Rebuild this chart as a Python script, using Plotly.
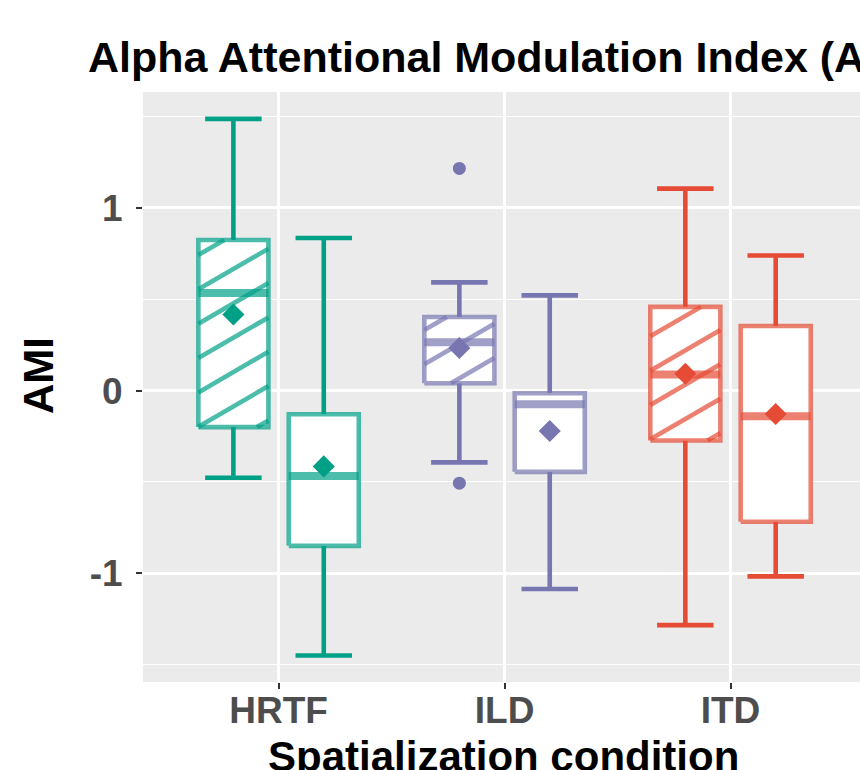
import plotly.graph_objects as go

# ---- data -------------------------------------------------------------
categories = ["HRTF", "ILD", "ITD"]
group_colors = ["#00A087", "#7876B1", "#E64B35"]

# hatched boxes (left box of each pair)
hatched_lower = [-0.477, -0.393, -1.284]
hatched_q1 = [-0.200, 0.040, -0.273]
hatched_median = [0.534, 0.265, 0.088]
hatched_q3 = [0.824, 0.403, 0.458]
hatched_upper = [1.487, 0.592, 1.105]
hatched_mean = [0.416, 0.233, 0.092]
hatched_outliers = [[], [1.216, -0.507], []]

# plain boxes (right box of each pair)
plain_lower = [-1.450, -1.086, -1.017]
plain_q1 = [-0.850, -0.445, -0.718]
plain_median = [-0.468, -0.075, -0.141]
plain_q3 = [-0.130, -0.015, 0.353]
plain_upper = [0.835, 0.521, 0.739]
plain_mean = [-0.415, -0.221, -0.128]
plain_outliers = [[], [], []]

y_tick_values = [-1, 0, 1]
y_tick_labels = ["-1", "0", "1"]
y_minor_values = [-1.5, -0.5, 0.5, 1.5]

# ---- styling ----------------------------------------------------------
FONT = "Liberation Sans, Arial, Helvetica, sans-serif"
DODGE = 0.2          # horizontal shift of each box from its category
BOX_HALF = 0.155     # half box width (x units)
CAP_HALF = 0.125     # half whisker-cap width (x units)
EDGE_ALPHA = 0.7
LINE_W = 4.6
MEDIAN_W = 8

# stripe family for the hatched boxes: y = base + slope*(x - x_ref) + k*gap
STRIPE_SLOPE = 0.7175
STRIPE_GAP = 0.188
STRIPE_BASE = -0.198
STRIPE_XREF = 0.645


def rgba(hex_color, alpha):
    h = hex_color.lstrip("#")
    r, g, b = (int(h[i:i + 2], 16) for i in (0, 2, 4))
    return f"rgba({r},{g},{b},{alpha})"


def stripe_segments(x0, x1, y0, y1):
    xs, ys = [], []
    k_lo = int((y0 - STRIPE_BASE - STRIPE_SLOPE * (x1 - STRIPE_XREF)) // STRIPE_GAP) - 1
    k_hi = int((y1 - STRIPE_BASE - STRIPE_SLOPE * (x0 - STRIPE_XREF)) // STRIPE_GAP) + 2
    for k in range(k_lo, k_hi):
        b = STRIPE_BASE + k * STRIPE_GAP
        # y = b + slope*(x - xref)  ->  x = xref + (y - b)/slope
        xa = max(x0, STRIPE_XREF + (y0 - b) / STRIPE_SLOPE)
        xb = min(x1, STRIPE_XREF + (y1 - b) / STRIPE_SLOPE)
        if xb - xa > 1e-6:
            xs += [xa, xb, None]
            ys += [b + STRIPE_SLOPE * (xa - STRIPE_XREF),
                   b + STRIPE_SLOPE * (xb - STRIPE_XREF), None]
    return xs, ys


fig = go.Figure()

series = [
    dict(offset=-DODGE, hatched=True, lower=hatched_lower, q1=hatched_q1,
         median=hatched_median, q3=hatched_q3, upper=hatched_upper,
         mean=hatched_mean, outliers=hatched_outliers),
    dict(offset=DODGE, hatched=False, lower=plain_lower, q1=plain_q1,
         median=plain_median, q3=plain_q3, upper=plain_upper,
         mean=plain_mean, outliers=plain_outliers),
]

for s in series:
    for i, cat in enumerate(categories):
        col = group_colors[i]
        edge = rgba(col, EDGE_ALPHA)
        xc = i + 1 + s["offset"]
        xl, xr = xc - BOX_HALF, xc + BOX_HALF
        q1, q3 = s["q1"][i], s["q3"][i]
        common = dict(showlegend=False, hoverinfo="skip")

        # whiskers with caps
        fig.add_trace(go.Scatter(
            x=[xc, xc, None, xc, xc, None,
               xc - CAP_HALF, xc + CAP_HALF, None, xc - CAP_HALF, xc + CAP_HALF],
            y=[q3, s["upper"][i], None, q1, s["lower"][i], None,
               s["upper"][i], s["upper"][i], None, s["lower"][i], s["lower"][i]],
            mode="lines", line=dict(color=col, width=LINE_W), **common))

        # white box body
        fig.add_trace(go.Scatter(
            x=[xl, xr, xr, xl, xl], y=[q1, q1, q3, q3, q1],
            mode="lines", fill="toself", fillcolor="white",
            line=dict(width=0), **common))

        # stripes
        if s["hatched"]:
            hx, hy = stripe_segments(xl, xr, q1, q3)
            fig.add_trace(go.Scatter(x=hx, y=hy, mode="lines",
                                     line=dict(color=edge, width=LINE_W), **common))

        # box outline
        fig.add_trace(go.Scatter(
            x=[xl, xr, xr, xl, xl], y=[q1, q1, q3, q3, q1],
            mode="lines", line=dict(color=edge, width=LINE_W), **common))

        # median
        fig.add_trace(go.Scatter(
            x=[xl, xr], y=[s["median"][i]] * 2, mode="lines",
            line=dict(color=edge, width=MEDIAN_W), **common))

        # mean
        fig.add_trace(go.Scatter(
            x=[xc], y=[s["mean"][i]], mode="markers",
            marker=dict(symbol="diamond", size=17, color=col, line=dict(width=0)),
            name=cat, showlegend=False))

        # outliers
        if s["outliers"][i]:
            fig.add_trace(go.Scatter(
                x=[xc] * len(s["outliers"][i]), y=s["outliers"][i], mode="markers",
                marker=dict(symbol="circle", size=13, color=col, line=dict(width=0)),
                name=cat, showlegend=False))

fig.update_layout(
    width=860, height=770,
    margin=dict(l=143, r=0, t=92, b=88),
    paper_bgcolor="white", plot_bgcolor="#EBEBEB",
    showlegend=False,
    title=dict(text="Alpha Attentional Modulation Index (AMI)",
               font=dict(family=FONT, size=43, color="black", weight="bold"),
               xref="container", yref="container",
               x=88 / 860, xanchor="left", y=1 - 57 / 770, yanchor="middle"),
    xaxis=dict(range=[0.4, 3.573], tickmode="array", tickvals=[1, 2, 3],
               ticktext=categories, showgrid=True, gridcolor="white", gridwidth=2.5,
               zeroline=False, ticks="outside", ticklen=6, tickwidth=2,
               tickcolor="#333333",
               tickfont=dict(family=FONT, size=37, color="#4D4D4D", weight="bold"),
               fixedrange=True),
    yaxis=dict(range=[-1.595, 1.634], tickmode="array", tickvals=y_tick_values,
               ticktext=y_tick_labels, showgrid=True, gridcolor="white", gridwidth=2.5,
               zeroline=False, ticks="outside", ticklen=6, tickwidth=2,
               tickcolor="#333333", ticklabelstandoff=6,
               tickfont=dict(family=FONT, size=37, color="#4D4D4D", weight="bold"),
               minor=dict(tickmode="array", tickvals=y_minor_values, showgrid=True,
                          gridcolor="white", gridwidth=1.2, ticks=""),
               fixedrange=True),
    annotations=[
        dict(text="AMI", textangle=-90, showarrow=False,
             xref="paper", yref="paper", x=(38 - 143) / 717, y=(682 - 376) / 590,
             xanchor="center", yanchor="middle",
             font=dict(family=FONT, size=42, color="black", weight="bold")),
        dict(text="Spatialization condition", showarrow=False,
             xref="paper", yref="paper", x=(503 - 143) / 717, y=(682 - 756) / 590,
             xanchor="center", yanchor="middle",
             font=dict(family=FONT, size=42, color="black", weight="bold")),
    ],
)

# pull the category labels up, close to the tick marks
try:
    fig.update_xaxes(ticklabelstandoff=-10)
except ValueError:
    fig.update_xaxes(ticklabelstandoff=0)

fig.write_html("out.html")
